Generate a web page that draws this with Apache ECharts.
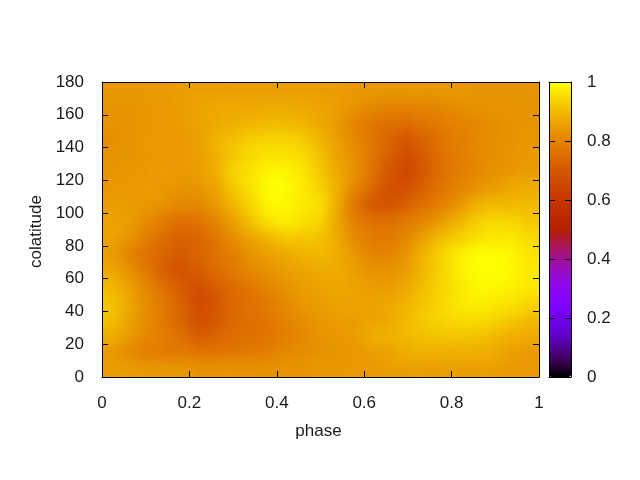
<!DOCTYPE html>
<html><head><meta charset="utf-8">
<style>html,body{margin:0;padding:0;background:#fff}#c{width:640px;height:480px}
/* the heatmap has its own canvas (zlevel 0): soften the coarse cells like the smooth original surface, and clip to the plot */
#c canvas:first-of-type{filter:blur(7px);clip-path:inset(82px 101px 103px 102px)}
</style>
<script src="https://cdn.jsdelivr.net/npm/echarts@6/dist/echarts.min.js"></script>
</head><body><div id="c"></div>
<script>
const phaseCentres=['.02','.06','.10','.14','.18','.22','.26','.30','.34','.38','.42','.46','.50','.54','.58','.62','.66','.70','.74','.78','.82','.86','.90','.94','.98'];
const colatCentres=['5','15','25','35','45','55','65','75','85','95','105','115','125','135','145','155','165','175'];
const row175=[84,84,84,84,85,85,85,85,85,85,85,85,85,85,84,84,84,84,84,84,84,83,83,83,83];
const row165=[83,83,84,84,85,86,87,87,87,87,87,87,86,85,83,81,80,80,80,81,82,83,83,83,83];
const row155=[83,83,84,84,85,86,87,88,89,90,90,89,87,84,80,77,76,75,77,79,80,81,82,83,83];
const row145=[82,83,84,84,84,85,89,91,93,94,94,93,89,85,81,77,73,69,73,77,79,81,82,83,84];
const row135=[83,83,84,84,84,85,88,92,95,96,96,95,91,86,82,77,72,66,72,76,79,81,82,83,84];
const row125=[83,84,84,85,84,85,88,94,96,99,99,97,92,87,83,76,69,65,71,76,79,81,83,84,85];
const row115=[84,84,85,84,83,83,86,92,96,100,100,97,94,88,80,74,67,68,73,77,80,83,85,87,88];
const row105=[85,85,84,83,81,81,84,89,94,99,99,97,96,87,76,69,69,73,76,80,84,89,90,90,90];
const row95=[86,85,82,78,75,76,80,85,91,96,98,96,94,86,79,76,76,78,81,85,89,93,95,94,92];
const row85=[86,84,79,75,72,73,77,82,86,89,92,92,91,87,81,78,78,81,86,91,93,96,97,97,95];
const row75=[85,80,76,73,71,73,76,79,83,85,87,89,90,88,84,80,80,84,90,94,98,100,100,99,96];
const row65=[87,83,78,72,68,71,75,78,81,83,85,86,87,87,85,83,83,85,90,94,98,100,100,99,97];
const row55=[90,86,81,76,71,67,71,75,77,80,83,85,86,87,86,85,85,87,91,94,97,99,99,98,97];
const row45=[92,87,82,78,73,66,69,74,76,78,81,84,85,86,86,86,87,89,92,95,97,98,97,96,94];
const row35=[91,86,82,78,73,67,70,74,76,77,80,82,84,85,85,86,87,90,93,94,95,95,94,92,90];
const row25=[88,85,81,79,76,71,73,75,76,77,79,81,83,84,85,88,89,90,91,92,92,91,90,88,87];
const row15=[84,81,79,78,78,77,77,77,78,79,81,82,83,83,84,85,86,88,88,88,88,88,87,85,84];
const row5=[85,85,84,84,84,83,83,83,83,83,83,83,84,84,84,84,85,85,85,85,85,85,85,84,84];
const rows=[row5,row15,row25,row35,row45,row55,row65,row75,row85,row95,row105,row115,row125,row135,row145,row155,row165,row175];
const palette=['#000000','#39004f','#510096','#6301ce','#7202f2','#8004ff','#8c07f2','#970bce','#a11096','#ab174f','#b42000','#bd2a00','#c63700','#ce4600','#d55700','#dd6c00','#e48300','#eb9d00','#f2ba00','#f9db00','#ffff00'];

// One repeated band of edge cells on each side, lying outside the clip, so the softening does not fade at the plot edge.
const nx=phaseCentres.length, ny=colatCentres.length;
const clamp=(v,n)=>Math.max(0,Math.min(n-1,v));
const cells=[];
for(let j=-1;j<=ny;j++)for(let i=-1;i<=nx;i++)cells.push([i+1,j+1,rows[clamp(j,ny)][clamp(i,nx)]/100]);
const bandX=437/nx, bandY=295/ny;

const font={fontFamily:'Liberation Sans',fontSize:17,color:'#1a1a1a'};
const line={lineStyle:{color:'#000',width:1}};
function frame(pos,gridIndex,min,max,interval,labels,extra){
  return Object.assign({type:'value',gridIndex,position:pos,min,max,interval,z:10,zlevel:1,
    axisLine:Object.assign({show:true,onZero:false},line),
    axisTick:Object.assign({show:interval!==undefined,inside:true,length:6},line),
    axisLabel:Object.assign({show:labels,margin:18,hideOverlap:false},font),
    splitLine:{show:false}},extra||{});
}
const hiddenCat=(n)=>({type:'category',data:Array.from({length:n},(_,k)=>k),gridIndex:0,show:false});
const chart=echarts.init(document.getElementById('c'),null,{renderer:'canvas'});
chart.setOption({
  animation:false,backgroundColor:'transparent',
  grid:[
    {left:102-bandX,top:82-bandY,width:437+2*bandX,height:295+2*bandY},
    {left:102,top:82,width:437,height:295},
    {left:549,top:82,width:22,height:295}
  ],
  xAxis:[
    hiddenCat(nx+2),
    frame('bottom',1,0,1,0.2,true,{name:'phase',nameLocation:'middle',nameGap:46,nameTextStyle:Object.assign({padding:[0,4,0,0]},font)}),
    frame('top',1,0,1,0.2,false),
    frame('bottom',2,0,1,undefined,false),
    frame('top',2,0,1,undefined,false)
  ],
  yAxis:[
    hiddenCat(ny+2),
    frame('left',1,0,180,20,true,{name:'colatitude',nameLocation:'middle',nameGap:54,nameRotate:90,nameTextStyle:Object.assign({padding:[0,4,0,0]},font)}),
    frame('right',1,0,180,20,false),
    frame('left',2,0,1,0.2,false),
    frame('right',2,0,1,0.2,true,{axisLabel:Object.assign({show:true,margin:16,hideOverlap:false},font)})
  ],
  visualMap:{type:'continuous',min:0,max:1,left:549,top:82,itemWidth:22,itemHeight:295,padding:0,
    calculable:false,showLabel:false,text:null,seriesIndex:0,inRange:{color:palette},z:4,zlevel:1,hoverLink:false},
  series:[{type:'heatmap',xAxisIndex:0,yAxisIndex:0,data:cells,z:2,zlevel:0,itemStyle:{borderWidth:0},progressive:0}]
});
</script></body></html>
